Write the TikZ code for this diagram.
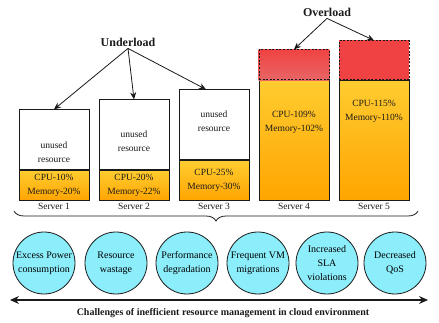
\documentclass[tikz,border=0pt]{standalone}
\usepackage{fontspec}
\setmainfont{Liberation Serif}
\usetikzlibrary{arrows.meta,positioning,calc,decorations.pathreplacing}
\definecolor{srvInk}{HTML}{1A1A1A}
\definecolor{srvGold}{HTML}{FFCC30}
\definecolor{srvOrange}{HTML}{FFA400}
\definecolor{srvRed}{HTML}{F04242}
\definecolor{srvRose}{HTML}{E86666}
\definecolor{srvCyan}{HTML}{8CEEFB}
\tikzset{
  box/.style      ={draw=srvInk,line width=0.8pt,minimum width=70pt,inner sep=0pt},
  unused/.style   ={box,fill=white},
  usage/.style    ={box,top color=srvGold,bottom color=srvOrange},
  excess/.style   ={box,dash pattern=on 2pt off 1.6pt},
  txt/.style      ={font=\fontsize{9.5}{14}\selectfont,align=center,text=srvInk,inner sep=1pt},
  srvlbl/.style   ={font=\fontsize{9.5}{11}\selectfont,text=srvInk,inner sep=1pt},
  head/.style     ={font=\fontsize{12}{14}\selectfont\bfseries,text=srvInk,inner sep=2pt},
  issue/.style    ={circle,draw=srvInk,line width=0.8pt,fill=srvCyan,minimum size=62pt,
                    inner sep=0pt,align=center,font=\fontsize{10}{14}\selectfont},
  flow/.style     ={-{Stealth[length=7pt,width=6pt]},srvInk,line width=0.8pt},
  axis/.style     ={{Stealth[length=9pt,width=8pt]}-{Stealth[length=9pt,width=8pt]},
                    srvInk,line width=1.2pt},
}
\begin{document}
\begin{tikzpicture}[x=1pt,y=-1pt]
\useasboundingbox (0,0) rectangle (439,323);

% under-loaded servers
\foreach \i/\x/\free/\load/\dy/\cpu/\mem in {1/54/60/30/-12/10/20, 2/134/70/30/-6/20/22,
                                            3/214/70/40/4/25/30}
{
  \node[usage,minimum height=\load pt,anchor=south] (u\i) at (\x,201) {};
  \node[unused,minimum height=\free pt,above=0pt of u\i] (w\i) {};
  \node[txt] at ([yshift=\dy pt]w\i.center) {unused\\resource};
  \node[txt] at (u\i.center) {CPU-\cpu\%\\Memory-\mem\%};
  \node[srvlbl,below=1pt of u\i] (n\i) {Server \i};
}

% over-loaded servers
\foreach \i/\x/\over/\dy/\cpu/\mem in {4/294/30/-42/109/102, 5/374/39/-31/115/110}
{
  \node[usage,minimum height=120pt,anchor=south] (u\i) at (\x,201) {};
  \node[excess,minimum height=\over pt,above=0pt of u\i] (w\i) {};
  \node[txt] at ([yshift=\dy pt]u\i.north) {CPU-\cpu\%\\Memory-\mem\%};
  \node[srvlbl,below=1pt of u\i] (n\i) {Server \i};
}
\shade[top color=srvRed,bottom color=srvRose] (w4.south west) rectangle (w4.north east);
\fill[srvRed] (w5.south west) rectangle (w5.north east);
\node[excess,minimum height=30pt] at (w4) {};
\node[excess,minimum height=39pt] at (w5) {};

\node[head] (under) at (128,42) {Underload};
\node[head] (over) at (327,12) {Overload};
\draw[flow] (under.south) -- (w1.north);
\draw[flow] (under.south) -- (w2.north);
\draw[flow] (under.south) -- ([xshift=-8pt]w3.north);
\draw[flow] (over.south) -- (w4.north);
\draw[flow] (over.south) -- (w5.north);

\coordinate (bl) at (14,211);
\coordinate (br) at (418,211);
\draw[srvInk,line width=0.8pt,decorate,decoration={brace,mirror,amplitude=10pt}] (bl) -- (br);

% challenges
\foreach \i/\x/\what in {1/44/{Excess Power\\consumption}, 2/116/{Resource\\wastage},
                        3/187/{Performance\\degradation}, 4/258/{Frequent VM\\migrations},
                        5/327/{Increased\\SLA\\violations}, 6/395/{Decreased\\QoS}}
  \node[issue] (c\i) at (\x,263) {\what};

\coordinate (al) at (10,300);
\coordinate (ar) at (428,300);
\draw[axis] (al) -- (ar);
\node[font=\fontsize{10}{12}\selectfont\bfseries,text=srvInk] (cap) at (223,313)
  {Challenges of inefficient resource management in cloud environment};
\end{tikzpicture}
\end{document}
